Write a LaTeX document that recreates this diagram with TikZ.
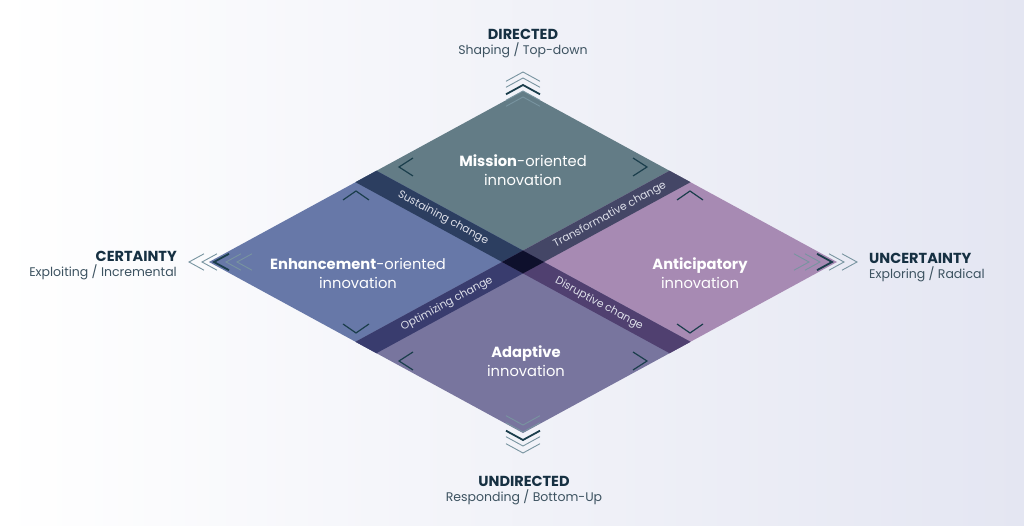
\documentclass[tikz,border=0pt]{standalone}
\usepackage{fontspec}
\setmainfont{Poppins}
\usepackage{tikz}
\usetikzlibrary{positioning}
\definecolor{bgright}{RGB}{228,230,242}
\definecolor{mission}{RGB}{99,124,134}
\definecolor{enhance}{RGB}{103,120,168}
\definecolor{anticip}{RGB}{167,138,179}
\definecolor{adaptive}{RGB}{120,117,158}
\definecolor{sustain}{RGB}{44,62,96}
\definecolor{transform}{RGB}{68,70,102}
\definecolor{optimize}{RGB}{57,60,110}
\definecolor{disrupt}{RGB}{80,64,112}
\definecolor{core}{RGB}{14,16,44}
\definecolor{chevdark}{RGB}{27,62,76}
\definecolor{chevlight}{RGB}{120,148,160}
\definecolor{titlecol}{RGB}{22,48,66}
\definecolor{subcol}{RGB}{60,82,96}
\definecolor{bandtxt}{RGB}{222,224,234}

\begin{document}
\begin{tikzpicture}[x=1pt,y=1pt,
    chev/.style={draw=chevlight, line width=0.9pt},
    chevmain/.style={draw=chevdark, line width=1.8pt},
    bracket/.style={draw=chevdark, line width=1.2pt},
    heading/.style={font=\fontsize{14.5}{16}\selectfont\bfseries, text=titlecol, inner sep=1pt},
    subhead/.style={font=\fontsize{12.5}{14}\selectfont, text=subcol, inner sep=1pt},
    quad/.style={font=\fontsize{14.7}{19}\selectfont, text=white, align=center},
    band/.style={font=\fontsize{10.8}{12}\selectfont, text=bandtxt}]
  \shade[left color=white, right color=bgright] (-523,-264) rectangle (501,262);
  \useasboundingbox (-523,-264) rectangle (501,262);

  \fill[mission]  (0,171) -- (-167.5,79.8) -- (0,-11.4) -- (167.5,79.8) -- cycle;
  \fill[enhance]  (-314,0) -- (-146.5,91.2) -- (21,0) -- (-146.5,-91.2) -- cycle;
  \fill[anticip]  (314,0) -- (146.5,91.2) -- (-21,0) -- (146.5,-91.2) -- cycle;
  \fill[adaptive] (0,-171) -- (-167.5,-79.8) -- (0,11.4) -- (167.5,-79.8) -- cycle;

  \fill[sustain]   (-146.5,91.2) -- (-167.5,79.8) -- (0,-11.4) -- (21,0) -- cycle;
  \fill[transform] (146.5,91.2) -- (167.5,79.8) -- (0,-11.4) -- (-21,0) -- cycle;
  \fill[optimize]  (-146.5,-91.2) -- (-167.5,-79.8) -- (0,11.4) -- (21,0) -- cycle;
  \fill[disrupt]   (146.5,-91.2) -- (167.5,-79.8) -- (0,11.4) -- (-21,0) -- cycle;
  \fill[core] (-21,0) -- (0,11.4) -- (21,0) -- (0,-11.4) -- cycle;

  \foreach \y in {190,184,171,165}
    \draw[chev] (0,\y) ++(-17,-9.3) -- ++(17,9.3) -- ++(17,-9.3);
  \draw[chevmain] (0,177) ++(-17,-9.3) -- ++(17,9.3) -- ++(17,-9.3);
  \foreach \y in {-163,-170,-184,-191}
    \draw[chev] (0,\y) ++(-17,9.3) -- ++(17,-9.3) -- ++(17,9.3);
  \draw[chevmain] (0,-178) ++(-17,9.3) -- ++(17,-9.3) -- ++(17,9.3);
  \foreach \x in {-334,-321,-297,-286}
    \draw[chev] (\x,0) ++(15,8.2) -- ++(-15,-8.2) -- ++(15,-8.2);
  \draw[chevmain] (-309,0) ++(15,8.2) -- ++(-15,-8.2) -- ++(15,-8.2);
  \foreach \x in {334,321,297,286}
    \draw[chev] (\x,0) ++(-15,8.2) -- ++(15,-8.2) -- ++(-15,-8.2);
  \draw[chevmain] (309,0) ++(-15,8.2) -- ++(15,-8.2) -- ++(-15,-8.2);

  \draw[bracket] (-110,104) -- (-124,95) -- (-110,86);
  \draw[bracket] (110,104) -- (124,95) -- (110,86);
  \draw[bracket] (-110,-90) -- (-124,-99) -- (-110,-108);
  \draw[bracket] (110,-90) -- (124,-99) -- (110,-108);
  \draw[bracket] (-180,62) -- (-167,71) -- (-154,62);
  \draw[bracket] (-180,-62) -- (-167,-71) -- (-154,-62);
  \draw[bracket] (180,62) -- (167,71) -- (154,62);
  \draw[bracket] (180,-62) -- (167,-71) -- (154,-62);

  \node[quad] (missionlbl) at (0,92) {\textbf{Mission}-oriented\\innovation};
  \node[quad] (enhancelbl) at (-165,-11) {\textbf{Enhancement}-oriented\\innovation};
  \node[quad] (anticiplbl) at (177,-11) {\textbf{Anticipatory}\\innovation};
  \node[quad] (adaptlbl) at (3,-99) {\textbf{Adaptive}\\innovation};

  \node[band, rotate=-28.5] (sustlbl) at (-80,44) {Sustaining change};
  \node[band, rotate=28.5] (translbl) at (87,47) {Transformative change};
  \node[band, rotate=28.5] (optlbl) at (-76,-42) {Optimizing change};
  \node[band, rotate=-28.5] (disrlbl) at (76,-42) {Disruptive change};

  \node[heading] (dirT) at (0,228) {DIRECTED};
  \node[subhead, below=1pt of dirT] (dirS) {Shaping / Top-down};
  \node[heading] (undirT) at (1,-219) {UNDIRECTED};
  \node[subhead, below=1pt of undirT] (undirS) {Responding / Bottom-Up};
  \node[heading, anchor=east] (certT) at (-345,6) {CERTAINTY};
  \node[subhead, below left=1pt and 0pt of certT.south east] (certS) {Exploiting / Incremental};
  \node[heading, anchor=west] (uncertT) at (345,4) {UNCERTAINTY};
  \node[subhead, below right=1pt and 0pt of uncertT.south west] (uncertS) {Exploring / Radical};
\end{tikzpicture}
\end{document}
